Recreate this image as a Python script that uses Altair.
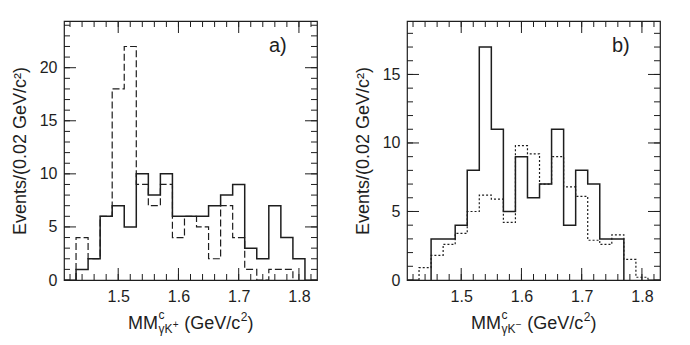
import altair as alt
import pandas as pd

# ---------------- data ----------------
BIN_W = 0.02
# panel a)  MM^c_{gamma K+}
a_solid_start = 1.43
a_solid = [1, 2, 6, 7, 5, 10, 8, 10, 6, 6, 6, 7, 8, 9, 3, 2, 7, 4, 2]
a_dashed_start = 1.43
a_dashed = [4, 2, 6, 18, 22, 9, 7, 9, 4, 6, 5, 2, 7, 4, 1, 0, 1, 1]
# panel b)  MM^c_{gamma K-}
b_solid_start = 1.45
b_solid = [3, 3, 4, 8, 17, 11, 5, 9, 6, 7, 11, 4, 8, 7, 3, 3]
b_dotted_start = 1.43
b_dotted = [0.9, 1.8, 2.6, 3.4, 5.0, 6.2, 5.9, 4.2, 9.8, 9.2, 7.0, 9.0, 6.8, 6.1,
            2.9, 2.6, 3.3, 1.5, 0.2]

x_labels = [1.5, 1.6, 1.7, 1.8]
x_minor = [round(1.42 + 0.02 * i, 2) for i in range(21)]
a_y_labels = [0, 5, 10, 15, 20]
b_y_labels = [0, 5, 10, 15]
a_y_minor = list(range(0, 25))
b_y_minor = list(range(0, 19))
X_DOMAIN = [1.41, 1.83]
A_Y_MAX = 24.4
B_Y_MAX = 18.9
Y_TITLE = "Events/(0.02 GeV/c²)"

# ---------------- layout ----------------
FONT = "Liberation Sans"
INK = "#1e1e1e"
W, H = 253, 259
MAJ, MIN = 12, 6

AW = {"M": 0.833, "c": 0.5, "γ": 0.52, "K": 0.667, "+": 0.584, "−": 0.584,
      " ": 0.278, "(": 0.333, "G": 0.778, "e": 0.556, "V": 0.667, "/": 0.278,
      "2": 0.556, ")": 0.333}


def tw(s, size):
    return sum(AW.get(ch, 0.556) for ch in s) * size


def hist_path(start, counts):
    xs, ys = [round(start, 4)], [0.0]
    for i, c in enumerate(counts):
        lo = round(start + i * BIN_W, 4)
        hi = round(start + (i + 1) * BIN_W, 4)
        xs += [lo, hi]
        ys += [c, c]
    xs.append(round(start + len(counts) * BIN_W, 4))
    ys.append(0.0)
    return pd.DataFrame({"x": xs, "y": ys, "o": list(range(len(xs)))})


def text_piece(txt, x, y, size):
    return alt.Chart(alt.Data(values=[{}])).mark_text(
        text=txt, font=FONT, fontSize=size, align="left", baseline="alphabetic",
        color=INK).encode(x=alt.value(x), y=alt.value(y))


def x_title_layers(sign):
    big, small, tiny = 18, 12, 10
    w_mm = tw("MM", big)
    w_sub = tw("γK", small)
    w_sign = tw(sign, tiny)
    w_subtot = max(tw("c", small), w_sub + w_sign) + 1
    w_sp = tw(" ", big)
    w_mid = tw("(GeV/c", big)
    w_2 = tw("2", small)
    w_close = tw(")", big)
    total = w_mm + w_subtot + w_sp + w_mid + w_2 + w_close
    x0 = W / 2 - total / 2
    base = H + 49
    xm = x0 + w_mm + w_subtot + w_sp
    return [
        text_piece("MM", x0, base, big),
        text_piece("c", x0 + w_mm + 0.5, base - 10, small),
        text_piece("γK", x0 + w_mm + 0.5, base + 4, small),
        text_piece(sign, x0 + w_mm + 0.5 + w_sub, base - 1, tiny),
        text_piece("(GeV/c", xm, base, big),
        text_piece("2", xm + w_mid + 0.5, base - 8, small),
        text_piece(")", xm + w_mid + w_2 + 0.5, base, big),
    ]


def panel(solid_start, solid, other_start, other, dash, ymax, ylabels, yminor,
          sign, tag):
    xs = alt.Scale(domain=X_DOMAIN, nice=False, zero=False)
    ys = alt.Scale(domain=[0, ymax], nice=False, zero=False)
    x_axis = alt.Axis(title=None, values=x_labels, ticks=False, domain=False,
                      grid=False, labelFontSize=16, labelPadding=8, format=".1f",
                      labelFont=FONT, labelColor=INK)
    y_axis = alt.Axis(title=Y_TITLE, values=ylabels, ticks=False, domain=False,
                      grid=False, labelFontSize=16, labelPadding=7,
                      labelFont=FONT, labelColor=INK, titleFont=FONT,
                      titleFontSize=18, titleFontWeight="normal",
                      titleColor=INK, titlePadding=10)

    solid_line = alt.Chart(hist_path(solid_start, solid)).mark_line(
        color=INK, strokeWidth=1.5, interpolate="linear"
    ).encode(x=alt.X("x:Q", scale=xs, axis=x_axis, title=None),
             y=alt.Y("y:Q", scale=ys, axis=y_axis, title=Y_TITLE), order="o:Q")
    other_line = alt.Chart(hist_path(other_start, other)).mark_line(
        color=INK, strokeWidth=1.2, strokeDash=dash, interpolate="linear"
    ).encode(x=alt.X("x:Q", scale=xs, axis=x_axis, title=None),
             y=alt.Y("y:Q", scale=ys, axis=y_axis, title=Y_TITLE), order="o:Q")

    xmin_df = pd.DataFrame({"t": x_minor})
    xmaj_df = pd.DataFrame({"t": x_labels})
    ymin_df = pd.DataFrame({"t": yminor})
    ymaj_df = pd.DataFrame({"t": ylabels})

    def xt(df, ln, top):
        y1, y2 = (0, ln) if top else (H, H - ln)
        return alt.Chart(df).mark_rule(color=INK, strokeWidth=1).encode(
            x=alt.X("t:Q", scale=xs, axis=x_axis, title=None),
            y=alt.value(y1), y2=alt.value(y2))

    def yt(df, ln, right):
        x1, x2 = (W, W - ln) if right else (0, ln)
        return alt.Chart(df).mark_rule(color=INK, strokeWidth=1).encode(
            y=alt.Y("t:Q", scale=ys, axis=y_axis, title=Y_TITLE),
            x=alt.value(x1), x2=alt.value(x2))

    ticks = [xt(xmin_df, MIN, False), xt(xmin_df, MIN, True),
             xt(xmaj_df, MAJ, False), xt(xmaj_df, MAJ, True),
             yt(ymin_df, MIN, False), yt(ymin_df, MIN, True),
             yt(ymaj_df, MAJ, False), yt(ymaj_df, MAJ, True)]

    label = text_piece(tag, 205, 31, 20)
    return alt.layer(solid_line, other_line, *ticks, label,
                     *x_title_layers(sign)).properties(width=W, height=H)


pa = panel(a_solid_start, a_solid, a_dashed_start, a_dashed, [7, 3], A_Y_MAX,
           a_y_labels, a_y_minor, "+", "a)")
pb = panel(b_solid_start, b_solid, b_dotted_start, b_dotted, [2, 2], B_Y_MAX,
           b_y_labels, b_y_minor, "−", "b)")

chart = alt.hconcat(pa, pb, spacing=34).properties(
    padding={"left": 2, "top": 11, "right": 5, "bottom": 5},
    background="white",
).configure_view(stroke=INK, strokeWidth=1.2)

chart.save("out.html", embed_options={"renderer": "svg", "actions": False})
